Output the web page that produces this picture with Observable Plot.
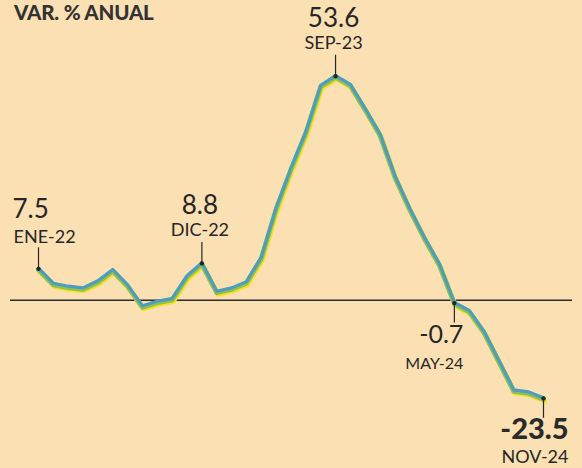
<!DOCTYPE html>
<html><head><meta charset="utf-8">
<script src="https://cdn.jsdelivr.net/npm/d3@7"></script>
<script src="https://cdn.jsdelivr.net/npm/@observablehq/plot@0.6"></script>
<style>
body{margin:0;background:#fbe0b4;}
#c{position:relative;width:582px;height:468px;overflow:hidden;background:#fbe0b4;}
#t{position:absolute;left:14px;top:0px;font:900 20.5px Lato,sans-serif;color:#333;letter-spacing:-0.2px;}
#c svg{position:absolute;left:0;top:0;}
</style>
</head><body>
<div id="c"><div id="t">VAR. % ANUAL</div></div>
<script>
const months = ["2022-01","2022-02","2022-03","2022-04","2022-05","2022-06","2022-07","2022-08","2022-09","2022-10","2022-11","2022-12",
  "2023-01","2023-02","2023-03","2023-04","2023-05","2023-06","2023-07","2023-08","2023-09","2023-10","2023-11","2023-12",
  "2024-01","2024-02","2024-03","2024-04","2024-05","2024-06","2024-07","2024-08","2024-09","2024-10","2024-11"];
const values = [7.5, 3.9, 3.2, 2.8, 4.5, 7.2, 3.5, -1.5, -0.4, 0.3, 5.7, 8.8,
  2.0, 2.8, 4.3, 10.2, 22.0, 31.5, 40.2, 51.3, 53.6, 51.5, 45.7, 39.6,
  29.6, 21.8, 14.8, 8.5, -0.7, -2.6, -7.6, -14.6, -21.6, -22.1, -23.5];
const annMonths = ["2022-01","2022-12","2023-09","2024-05","2024-11"];
const annValues = [7.5, 8.8, 53.6, -0.7, -23.5];
const annTexts = ["7.5","8.8","53.6","-0.7","-23.5"];
const annDates = ["ENE-22","DIC-22","SEP-23","MAY-24","NOV-24"];

const idx = m => months.indexOf(m);
const data = months.map((m,i)=>({m, v: values[i]}));
const ann = annMonths.map((m,i)=>({m, v: annValues[i], t: annTexts[i], d: annDates[i]}));
const up = ann.slice(0,3), down = ann.slice(3);
const ene = [ann[0]], mid = [ann[1], ann[2]], may = [ann[3]], nov = [ann[4]];
const valFont = "Lato, sans-serif";
const labFont = "Lato, sans-serif";
const ink = "#262626";
const X = d => idx(d.m);

const chart = Plot.plot({
  width: 582, height: 468,
  marginLeft: 38, marginRight: 39, marginTop: 49, marginBottom: 43,
  x: {type: "linear", domain: [0, months.length - 1], axis: null},
  y: {domain: [-30, 60], axis: null},
  style: {background: "transparent"},
  marks: [
    Plot.ruleY([0], {stroke: "#2b2b2b", strokeWidth: 1.5, insetLeft: -28, insetRight: -29}),
    Plot.line(data, {x: X, y: "v", stroke: "#f3e21f", strokeWidth: 5, dy: 2.4, dx: 1}),
    Plot.line(data, {x: X, y: "v", stroke: "#8fbf55", strokeWidth: 4.8, dy: 0.9}),
    Plot.line(data, {x: X, y: "v", stroke: "#4f9dbd", strokeWidth: 3.2, dy: -0.6}),
    Plot.ruleX(up, {x: X, y1: "v", y2: "v", insetTop: -21, stroke: ink, strokeWidth: 1.2}),
    Plot.ruleX(down, {x: X, y1: "v", y2: "v", insetBottom: -20, stroke: ink, strokeWidth: 1.2}),
    Plot.dot(ann, {x: X, y: "v", r: 2.2, fill: "#1e2a2a"}),
    Plot.text(ene, {x: X, y: "v", text: "t", textAnchor: "start", dx: -26, dy: -59, fontSize: 26, fontFamily: valFont, fill: ink}),
    Plot.text(ene, {x: X, y: "v", text: "d", textAnchor: "start", dx: -25, dy: -32, fontSize: 18, fontFamily: labFont, fill: ink, letterSpacing: -0.5}),
    Plot.text(mid, {x: X, y: "v", text: "t", dx: -2, dy: -58, fontSize: 26, fontFamily: valFont, fill: ink}),
    Plot.text(mid, {x: X, y: "v", text: "d", dx: -2, dy: -33, fontSize: 18, fontFamily: labFont, fill: ink, letterSpacing: -0.5}),
    Plot.text(may, {x: X, y: "v", text: "t", textAnchor: "end", dx: 9, dy: 32, fontSize: 25, fontFamily: valFont, fill: ink}),
    Plot.text(may, {x: X, y: "v", text: "d", textAnchor: "end", dx: 9, dy: 61, fontSize: 16, fontFamily: labFont, fill: ink, letterSpacing: -0.5}),
    Plot.text(nov, {x: X, y: "v", text: "t", textAnchor: "end", dx: 25, dy: 31, fontSize: 29, fontWeight: 900, fontFamily: valFont, fill: "#2a2a2a"}),
    Plot.text(nov, {x: X, y: "v", text: "d", textAnchor: "end", dx: 25, dy: 59, fontSize: 18, fontFamily: labFont, fill: ink, letterSpacing: -0.5})
  ]
});
document.getElementById("c").prepend(chart);
</script>
</body></html>
